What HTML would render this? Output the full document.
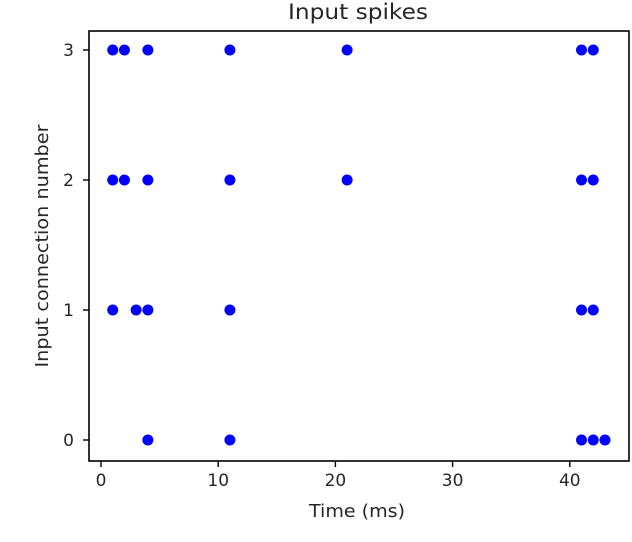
<!DOCTYPE html>
<html><head><meta charset="utf-8"><style>body{margin:0;background:#fff}svg{display:block;font-family:"DejaVu Sans","Liberation Sans",sans-serif}</style></head>
<body>
<svg id="c" width="632" height="542"></svg>
<script>
const xTicks=[0,10,20,30,40];
const yTicks=[0,1,2,3];
const spikeTimes=[1,2,4,11,21,41,42, 1,2,4,11,21,41,42, 1,3,4,11,41,42, 4,11,41,42,43];
const spikeConn=[3,3,3,3,3,3,3, 2,2,2,2,2,2,2, 1,1,1,1,1,1, 0,0,0,0,0];
const NS="http://www.w3.org/2000/svg";
const svg=document.getElementById('c');
const L=89,R=629,T=31,B=461;
const xs=v=>101+v*11.72;
const ys=v=>440-v*130;
function mk(t,a,txt){const e=document.createElementNS(NS,t);for(const k in a)e.setAttribute(k,a[k]);if(txt!=null)e.textContent=txt;svg.appendChild(e);return e;}
let e=mk('rect',{x:L,y:T,width:R-L,height:B-T,fill:'none',stroke:'#000','stroke-width':1.6});


xTicks.forEach(v=>{
 let t=mk('line',{x1:xs(v),x2:xs(v),y1:B,y2:B+6,stroke:'#000','stroke-width':1.4});
 
 
 let l=mk('text',{x:xs(v),y:B+25,'text-anchor':'middle','font-size':17,fill:'#262626'},v);
 
 
});
yTicks.forEach(v=>{
 let t=mk('line',{x1:L-6,x2:L,y1:ys(v),y2:ys(v),stroke:'#000','stroke-width':1.4});
 
 
 let l=mk('text',{x:L-15,y:ys(v)+6,'text-anchor':'end','font-size':17,fill:'#262626'},v);
 
 
});
spikeTimes.forEach((t,i)=>{
 let c=mk('circle',{cx:xs(t),cy:ys(spikeConn[i]),r:5.5,fill:'#0000ff'});
 
 
});
e=mk('text',{x:358,y:19,'text-anchor':'middle','font-size':21,fill:'#262626',textLength:140,lengthAdjust:'spacingAndGlyphs'},'Input spikes');


e=mk('text',{x:357,y:517,'text-anchor':'middle','font-size':18,fill:'#262626',textLength:96,lengthAdjust:'spacingAndGlyphs'},'Time (ms)');


e=mk('text',{x:0,y:0,'text-anchor':'middle','font-size':18,fill:'#262626',textLength:243,lengthAdjust:'spacingAndGlyphs',transform:'translate(48,246) rotate(-90)'},'Input connection number');


</script>
</body></html>
